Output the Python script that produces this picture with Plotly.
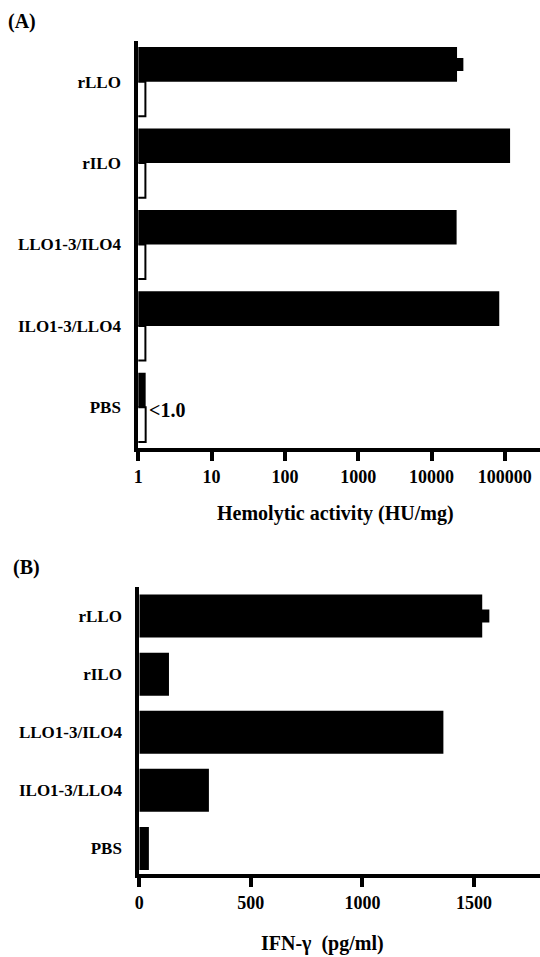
import plotly.graph_objects as go

# ---- data ----
categories = ["rLLO", "rILO", "LLO1-3/ILO4", "ILO1-3/LLO4", "PBS"]

hemolytic_protein = [22300, 118000, 22000, 84000, 1.26]
hemolytic_protein_err = [4900, 0, 0, 0, 0]
hemolytic_control = [1.25, 1.25, 1.25, 1.25, 1.26]

hemo_tickvals = [1, 10, 100, 1000, 10000, 100000]
hemo_ticktext = ["1", "10", "100", "1000", "10000", "100000"]

ifn_gamma = [1537, 133, 1363, 312, 43]
ifn_gamma_err = [32, 0, 0, 0, 0]

ifn_tickvals = [0, 500, 1000, 1500]
ifn_ticktext = ["0", "500", "1000", "1500"]

FONT = "Times New Roman, Liberation Serif, serif"
W, H = 540, 957

fig = go.Figure()

fig.add_trace(go.Bar(
    y=categories, x=hemolytic_protein, orientation="h",
    marker=dict(color="black", line=dict(width=0)),
    error_x=dict(type="data", array=hemolytic_protein_err, color="black",
                 thickness=13, width=0),
    xaxis="x", yaxis="y", showlegend=False,
))
fig.add_trace(go.Bar(
    y=categories, x=hemolytic_control, orientation="h",
    marker=dict(color="white", line=dict(color="black", width=2)),
    xaxis="x", yaxis="y", showlegend=False,
))
fig.add_trace(go.Bar(
    y=categories, x=ifn_gamma, orientation="h", width=0.74,
    marker=dict(color="black", line=dict(width=0)),
    error_x=dict(type="data", array=ifn_gamma_err, color="black",
                 thickness=13, width=0),
    xaxis="x2", yaxis="y2", showlegend=False,
))

axis_common = dict(showline=True, linecolor="black", linewidth=4,
                   showgrid=False, zeroline=False, automargin=False)

fig.update_layout(
    width=W, height=H,
    margin=dict(l=0, r=0, t=0, b=0),
    paper_bgcolor="white", plot_bgcolor="white",
    barmode="group", bargap=0.15, bargroupgap=0,
    showlegend=False,
    font=dict(family=FONT, color="black", size=17),
    xaxis=dict(
        **axis_common, type="log", range=[0, 5.48],
        domain=[138.3 / W, 1.0], anchor="y",
        tickvals=hemo_tickvals, ticktext=hemo_ticktext,
        ticks="outside", ticklen=9, tickwidth=4, tickcolor="black",
        tickfont=dict(family=FONT, size=18, color="black", weight="bold"),
    ),
    yaxis=dict(
        **axis_common, type="category", range=[4.5, -0.5],
        domain=[1 - 448 / H, 1 - 41 / H], anchor="x",
        ticks="", ticklabelstandoff=10,
        tickfont=dict(family=FONT, size=17, color="black", weight="bold"),
    ),
    xaxis2=dict(
        **axis_common, range=[0, 1796],
        domain=[139.3 / W, 1.0], anchor="y2",
        tickvals=ifn_tickvals, ticktext=ifn_ticktext,
        ticks="outside", ticklen=9, tickwidth=4, tickcolor="black",
        tickfont=dict(family=FONT, size=18, color="black", weight="bold"),
    ),
    yaxis2=dict(
        **axis_common, type="category", range=[4.44, -0.5],
        domain=[1 - 874 / H, 1 - 587 / H], anchor="x2",
        ticks="", ticklabelstandoff=10,
        tickfont=dict(family=FONT, size=17, color="black", weight="bold"),
    ),
)

ann_font = dict(family=FONT, color="black", weight="bold")
fig.add_annotation(text="(A)", x=22 / W, y=1 - 22 / H, xref="paper", yref="paper",
                   showarrow=False, xanchor="center", yanchor="middle",
                   font=dict(**ann_font, size=20))
fig.add_annotation(text="(B)", x=26 / W, y=1 - 567 / H, xref="paper", yref="paper",
                   showarrow=False, xanchor="center", yanchor="middle",
                   font=dict(**ann_font, size=20))
fig.add_annotation(text="<1.0", x=147 / W, y=1 - 410 / H, xref="paper", yref="paper",
                   showarrow=False, xanchor="left", yanchor="middle",
                   font=dict(**ann_font, size=20))
fig.add_annotation(text="Hemolytic activity (HU/mg)", x=335 / W, y=1 - 513 / H,
                   xref="paper", yref="paper", showarrow=False,
                   xanchor="center", yanchor="middle", font=dict(**ann_font, size=20))
fig.add_annotation(text="IFN-\u03b3\u00a0 (pg/ml)", x=322 / W, y=1 - 943 / H,
                   xref="paper", yref="paper", showarrow=False,
                   xanchor="center", yanchor="middle", font=dict(**ann_font, size=20))

fig.write_html(
    "out.html",
    config={"displayModeBar": False},
    post_script="document.body.style.margin='0';document.body.style.overflow='hidden';",
)
